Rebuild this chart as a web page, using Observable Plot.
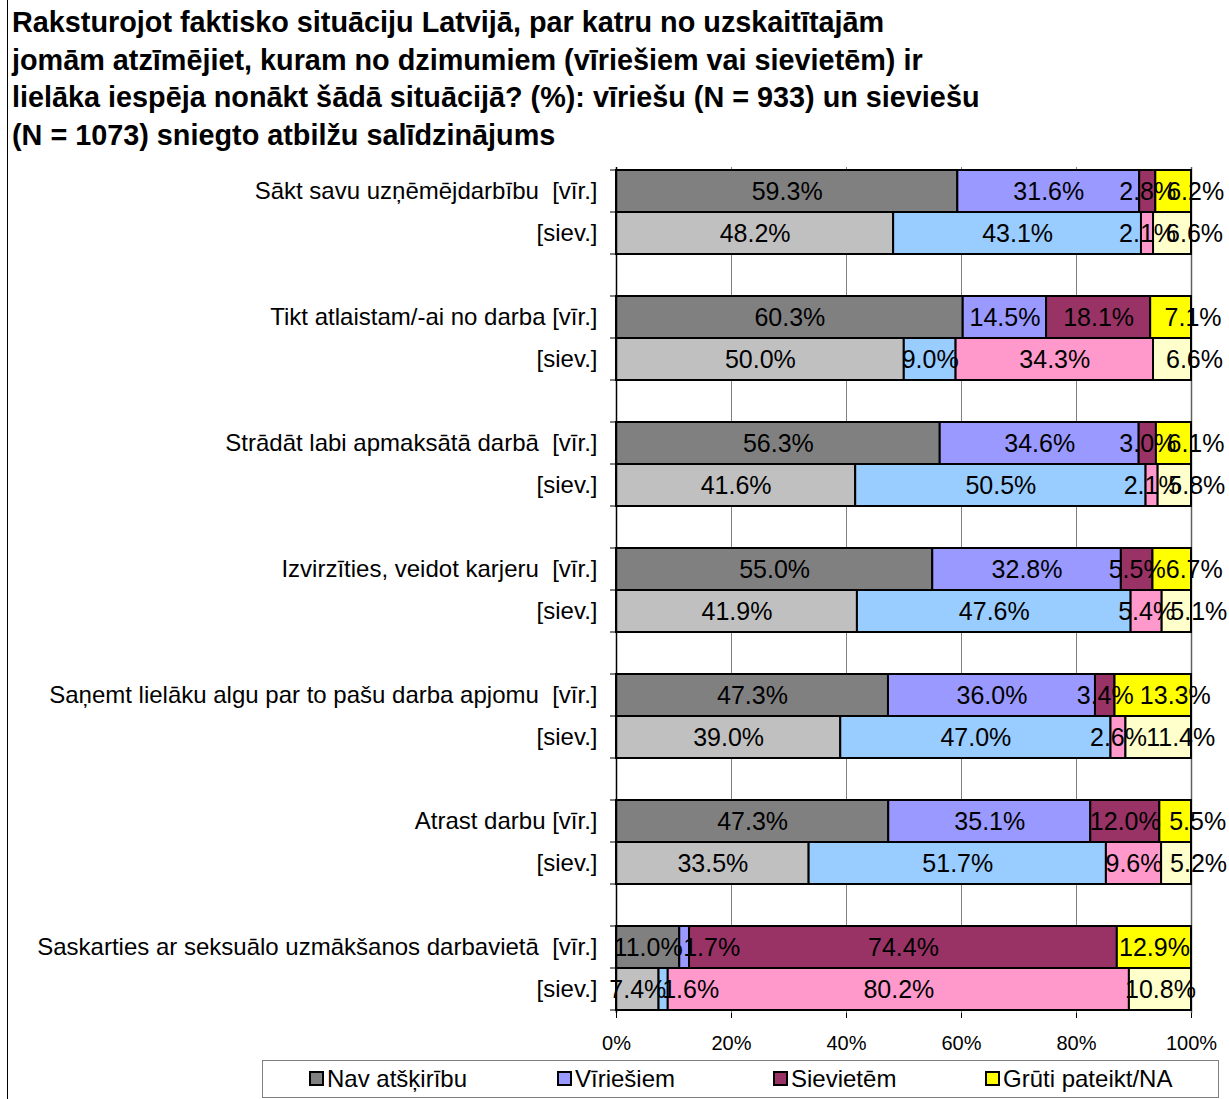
<!DOCTYPE html>
<html><head><meta charset="utf-8">
<script src="https://cdn.jsdelivr.net/npm/d3@7"></script>
<script src="https://cdn.jsdelivr.net/npm/@observablehq/plot@0.6"></script>
<style>
body{margin:0;background:#fff;font-family:"Liberation Sans",Arial,sans-serif;}
#wrap{position:relative;width:1229px;height:1099px;overflow:hidden;background:#fff;}
#frame{position:absolute;left:7px;top:0;width:1px;height:1099px;background:#000;}
#title{position:absolute;left:12px;top:4px;font-weight:bold;font-size:28.8px;line-height:37.5px;white-space:nowrap;color:#000;}
#chart{position:absolute;left:0;top:160px;}
#legend{position:absolute;left:262px;top:1060px;width:955px;height:36px;border:1px solid #808080;background:#fff;}
.li{position:absolute;top:0;height:36px;line-height:36px;font-size:24px;white-space:nowrap;}
.sw{display:inline-block;width:11px;height:11px;border:2px solid #000;vertical-align:middle;margin-right:3px;position:relative;top:-2px;}
</style></head>
<body>
<div id="wrap">
  <div id="frame"></div>
  <div id="title"></div>
  <div id="chart"></div>
  <div id="legend"></div>
</div>
<script>
const titleLines = [
  "Raksturojot faktisko situāciju Latvijā, par katru no uzskaitītajām",
  "jomām atzīmējiet, kuram no dzimumiem (vīriešiem vai sievietēm) ir",
  "lielāka iespēja nonākt šādā situācijā? (%): vīriešu (N = 933) un sieviešu",
  "(N = 1073) sniegto atbilžu salīdzinājums"
];
const categories = [
  "Sākt savu uzņēmējdarbību",
  "Tikt atlaistam/-ai no darba",
  "Strādāt labi apmaksātā darbā",
  "Izvirzīties, veidot karjeru",
  "Saņemt lielāku algu par to pašu darba apjomu",
  "Atrast darbu",
  "Saskarties ar seksuālo uzmākšanos darbavietā"
];
const menLabels = [
  "Sākt savu uzņēmējdarbību\u00a0 [vīr.]",
  "Tikt atlaistam/-ai no darba [vīr.]",
  "Strādāt labi apmaksātā darbā\u00a0 [vīr.]",
  "Izvirzīties, veidot karjeru\u00a0 [vīr.]",
  "Saņemt lielāku algu par to pašu darba apjomu\u00a0 [vīr.]",
  "Atrast darbu [vīr.]",
  "Saskarties ar seksuālo uzmākšanos darbavietā\u00a0 [vīr.]"
];
const womenLabel = "[siev.]";
const series = ["Nav atšķirību", "Vīriešiem", "Sievietēm", "Grūti pateikt/NA"];
const genders = ["vir", "siev"];
const xTicks = [0, 0.2, 0.4, 0.6, 0.8, 1];

const navAtskiribuVir  = [59.3, 60.3, 56.3, 55.0, 47.3, 47.3, 11.0];
const navAtskiribuSiev = [48.2, 50.0, 41.6, 41.9, 39.0, 33.5, 7.4];
const viriesiemVir     = [31.6, 14.5, 34.6, 32.8, 36.0, 35.1, 1.7];
const viriesiemSiev    = [43.1, 9.0, 50.5, 47.6, 47.0, 51.7, 1.6];
const sievietemVir     = [2.8, 18.1, 3.0, 5.5, 3.4, 12.0, 74.4];
const sievietemSiev    = [2.1, 34.3, 2.1, 5.4, 2.6, 9.6, 80.2];
const grutiVir         = [6.2, 7.1, 6.1, 6.7, 13.3, 5.5, 12.9];
const grutiSiev        = [6.6, 6.6, 5.8, 5.1, 11.4, 5.2, 10.8];

const colorsVir  = ["#808080", "#9999FF", "#993366", "#FFFF00"];
const colorsSiev = ["#C0C0C0", "#99CCFF", "#FF99CC", "#FFFFCC"];

document.getElementById("title").innerHTML = titleLines.join("<br>");

const valuesBy = {
  vir: [navAtskiribuVir, viriesiemVir, sievietemVir, grutiVir],
  siev: [navAtskiribuSiev, viriesiemSiev, sievietemSiev, grutiSiev]
};

const rowKeys = [];
const rowLabel = new Map();
categories.forEach((c, i) => {
  rowKeys.push(i + "|vir"); rowLabel.set(i + "|vir", menLabels[i]);
  rowKeys.push(i + "|siev"); rowLabel.set(i + "|siev", womenLabel);
  if (i < categories.length - 1) { rowKeys.push(i + "|gap"); rowLabel.set(i + "|gap", ""); }
});

const segs = [];
categories.forEach((c, i) => {
  genders.forEach(g => {
    const vals = valuesBy[g].map(a => a[i]);
    const total = d3.sum(vals);
    let acc = 0;
    vals.forEach((v, s) => {
      const x1 = acc / total; acc += v; const x2 = acc / total;
      segs.push({cat: i, gender: g, row: i + "|" + g, series: s, key: series[s] + "|" + g, value: v, x1, x2, xm: (x1 + x2) / 2});
    });
  });
});

const colorDomain = [], colorRange = [];
series.forEach((s, k) => {
  colorDomain.push(s + "|vir"); colorRange.push(colorsVir[k]);
  colorDomain.push(s + "|siev"); colorRange.push(colorsSiev[k]);
});

const fmt = d => d.value.toFixed(1) + "%";
const lastCat = categories.length - 1;
const shiftedRight = d => (d.series === 3 && d.cat < lastCat);
const shiftedBlue = d => (d.series === 1 && d.cat === lastCat);
const plain = d => !shiftedRight(d) && !shiftedBlue(d);

const bandTicks = (index, scales, values, dims) => {
  const g = d3.create("svg:g").attr("stroke", "#000").attr("stroke-width", 1);
  const bw = scales.y.bandwidth ? scales.y.bandwidth() : 0;
  const ys = rowKeys.map(k => scales.y(k));
  ys.push(ys[ys.length - 1] + bw);
  ys.forEach(y => g.append("line").attr("x1", dims.marginLeft - 6).attr("x2", dims.marginLeft).attr("y1", y).attr("y2", y));
  return g.node();
};

const chart = Plot.plot({
  width: 1229,
  height: 895,
  marginLeft: 616,
  marginRight: 38,
  marginTop: 7,
  marginBottom: 42,
  style: {fontFamily: "'Liberation Sans', Arial, sans-serif", background: "transparent", color: "#000"},
  x: {domain: [0, 1]},
  y: {domain: rowKeys, padding: 0},
  color: {domain: colorDomain, range: colorRange},
  marks: [
    Plot.ruleX([0.2, 0.4, 0.6, 0.8], {stroke: "#808080", strokeWidth: 1}),
    Plot.ruleX([1], {stroke: "#606060", strokeWidth: 1.5}),
    Plot.barX(segs, {x1: "x1", x2: "x2", y: "row", fill: "key", stroke: "#000", strokeWidth: 2}),
    Plot.ruleX([0], {stroke: "#000", strokeWidth: 1.5}),
    Plot.text(segs, {filter: plain, x: "xm", y: "row", text: fmt, fontSize: 25, fill: "#000"}),
    Plot.text(segs, {filter: shiftedRight, x: "xm", y: "row", text: fmt, fontSize: 25, fill: "#000", dx: 22}),
    Plot.text(segs, {filter: shiftedBlue, x: "xm", y: "row", text: fmt, fontSize: 25, fill: "#000", dx: 27}),
    Plot.axisY({tickSize: 0, tickPadding: 19, tickFormat: k => rowLabel.get(k), fontSize: 24, label: null}),
    bandTicks,
    Plot.axisX({ticks: xTicks, tickFormat: d3.format(".0%"), tickSize: 5, tickPadding: 17, fontSize: 20, label: null})
  ]
});
document.getElementById("chart").appendChild(chart);

const legendX = [46, 294, 510, 722];
const leg = document.getElementById("legend");
series.forEach((s, k) => {
  const item = document.createElement("div");
  item.className = "li";
  item.style.left = legendX[k] + "px";
  item.innerHTML = `<span class="sw" style="background:${colorsVir[k]}"></span>${s}`;
  leg.appendChild(item);
});
</script>
</body></html>
